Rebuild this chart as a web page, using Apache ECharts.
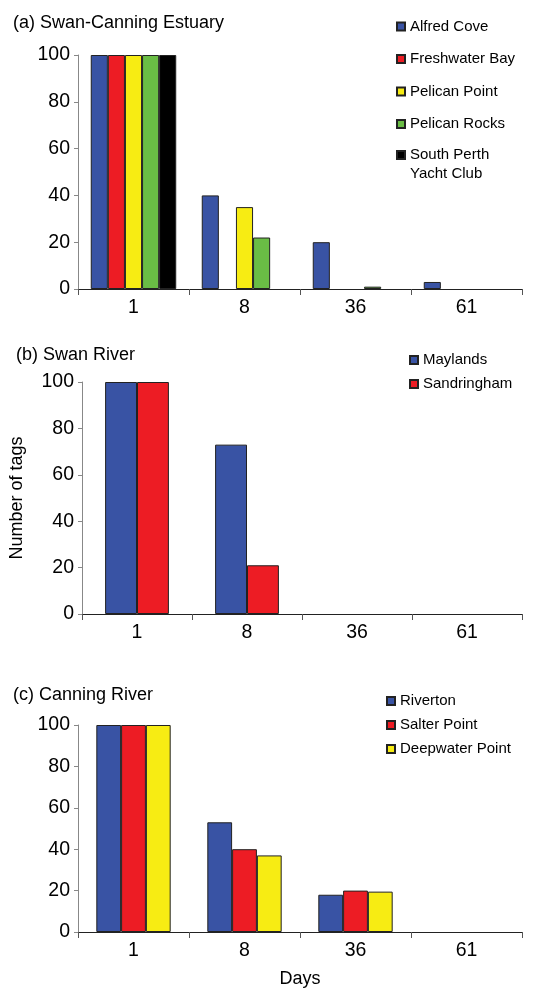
<!DOCTYPE html>
<html>
<head>
<meta charset="utf-8">
<title>Tag retention</title>
<script src="https://cdn.jsdelivr.net/npm/echarts@6/dist/echarts.min.js"></script>
<style>
  html, body { margin: 0; padding: 0; background: #fff; }
  #chart { width: 547px; height: 989px; }
</style>
</head>
<body>
<div id="chart"></div>
<script>
// days after tagging (x categories), same for all panels
const days = ['1', '8', '36', '61']
const yTicks = [0, 20, 40, 60, 80, 100]

// (a) Swan-Canning Estuary
const alfredCove = [100, 40, 20, 3]
const freshwaterBay = [100, 0, 0, 0]
const pelicanPoint = [100, 35, 0, 0]
const pelicanRocks = [100, 22, 1, 0]
const southPerth = [100, 0, 0, 0]

// (b) Swan River
const maylands = [100, 73, 0, 0]
const sandringham = [100, 21, 0, 0]

// (c) Canning River
const riverton = [100, 53, 18, 0]
const salterPoint = [100, 40, 20, 0]
const deepwaterPoint = [100, 37, 19.5, 0]

const BLUE = '#3953a4'
const RED = '#ed1c24'
const YELLOW = '#f7ec13'
const GREEN = '#6abd45'
const BLACK = '#000000'

const font = 'Liberation Sans, Arial, sans-serif'

const chart = echarts.init(document.getElementById('chart'))

function xAxis(gridIndex, withName) {
  return {
    type: 'category',
    gridIndex: gridIndex,
    data: days,
    boundaryGap: true,
    name: withName ? 'Days' : '',
    nameLocation: 'middle',
    nameGap: 38,
    nameTextStyle: { fontFamily: font, fontSize: 18, color: '#000' },
    axisLine: { lineStyle: { color: '#222', width: 1 } },
    axisTick: { show: true, length: 6, inside: false, lineStyle: { color: '#555' } },
    axisLabel: { fontFamily: font, fontSize: 19.5, color: '#000', margin: 9 }
  }
}

function yAxis(gridIndex, withName) {
  return {
    type: 'value',
    gridIndex: gridIndex,
    min: 0,
    max: yTicks[yTicks.length - 1],
    interval: yTicks[1] - yTicks[0],
    name: withName ? 'Number of tags' : '',
    nameLocation: 'middle',
    nameGap: 56,
    nameTextStyle: { fontFamily: font, fontSize: 18, color: '#000' },
    splitLine: { show: false },
    axisLine: { show: true, lineStyle: { color: '#888', width: 1 } },
    axisTick: { show: true, length: 4, lineStyle: { color: '#888' } },
    axisLabel: { fontFamily: font, fontSize: 19.5, color: '#000', margin: 8 }
  }
}

function bar(name, data, color, idx, gap) {
  return {
    name: name,
    type: 'bar',
    xAxisIndex: idx,
    yAxisIndex: idx,
    // zero counts leave no visible bar in the original
    data: data.map(v => (v === 0 ? '-' : v)),
    barGap: '0%',
    barCategoryGap: gap,
    itemStyle: { color: color, borderColor: '#222', borderWidth: 1 },
    emphasis: { disabled: true }
  }
}

function legend(names, left, top, gap, extra) {
  return Object.assign({
    data: names,
    orient: 'vertical',
    left: left,
    top: top,
    padding: 0,
    itemGap: gap,
    itemWidth: 8,
    itemHeight: 8,
    icon: 'rect',
    selectedMode: false,
    textStyle: { fontFamily: font, fontSize: 15, color: '#000', lineHeight: 17 }
  }, extra || {})
}

const titleStyle = { fontFamily: font, fontSize: 18, fontWeight: 'normal', color: '#000', lineHeight: 20 }

chart.setOption({
  animation: false,
  title: [
    { text: '(a) Swan-Canning Estuary', left: 13, top: 13, padding: 0, textStyle: titleStyle },
    { text: '(b) Swan River', left: 16, top: 345, padding: 0, textStyle: titleStyle },
    { text: '(c) Canning River', left: 13, top: 685, padding: 0, textStyle: titleStyle }
  ],
  legend: [
    legend(['Alfred Cove', 'Freshwater Bay', 'Pelican Point', 'Pelican Rocks'], 396, 18, 15.5),
    // empty first line keeps the marker level with "South Perth"
    legend(['South Perth Yacht Club'], 396, 126.5, 0, {
      formatter: function() { return ' \nSouth Perth\nYacht Club' },
      textStyle: { fontFamily: font, fontSize: 15, color: '#000', lineHeight: 19 }
    }),
    legend(['Maylands', 'Sandringham'], 409, 351.5, 7),
    legend(['Riverton', 'Salter Point', 'Deepwater Point'], 386, 692.5, 7)
  ],
  grid: [
    { left: 78, right: 25, top: 55, bottom: 700 },
    { left: 78, right: 25, top: 382, bottom: 375 },
    { left: 78, right: 25, top: 725, bottom: 47 }
  ],
  xAxis: [xAxis(0, false), xAxis(1, false), xAxis(2, true)],
  yAxis: [yAxis(0, false), yAxis(1, true), yAxis(2, false)],
  series: [
    bar('Alfred Cove', alfredCove, BLUE, 0, '23%'),
    bar('Freshwater Bay', freshwaterBay, RED, 0, '23%'),
    bar('Pelican Point', pelicanPoint, YELLOW, 0, '23%'),
    bar('Pelican Rocks', pelicanRocks, GREEN, 0, '23%'),
    bar('South Perth Yacht Club', southPerth, BLACK, 0, '23%'),
    bar('Maylands', maylands, BLUE, 1, '42%'),
    bar('Sandringham', sandringham, RED, 1, '42%'),
    bar('Riverton', riverton, BLUE, 2, '33%'),
    bar('Salter Point', salterPoint, RED, 2, '33%'),
    bar('Deepwater Point', deepwaterPoint, YELLOW, 2, '33%')
  ]
})
</script>
</body>
</html>
